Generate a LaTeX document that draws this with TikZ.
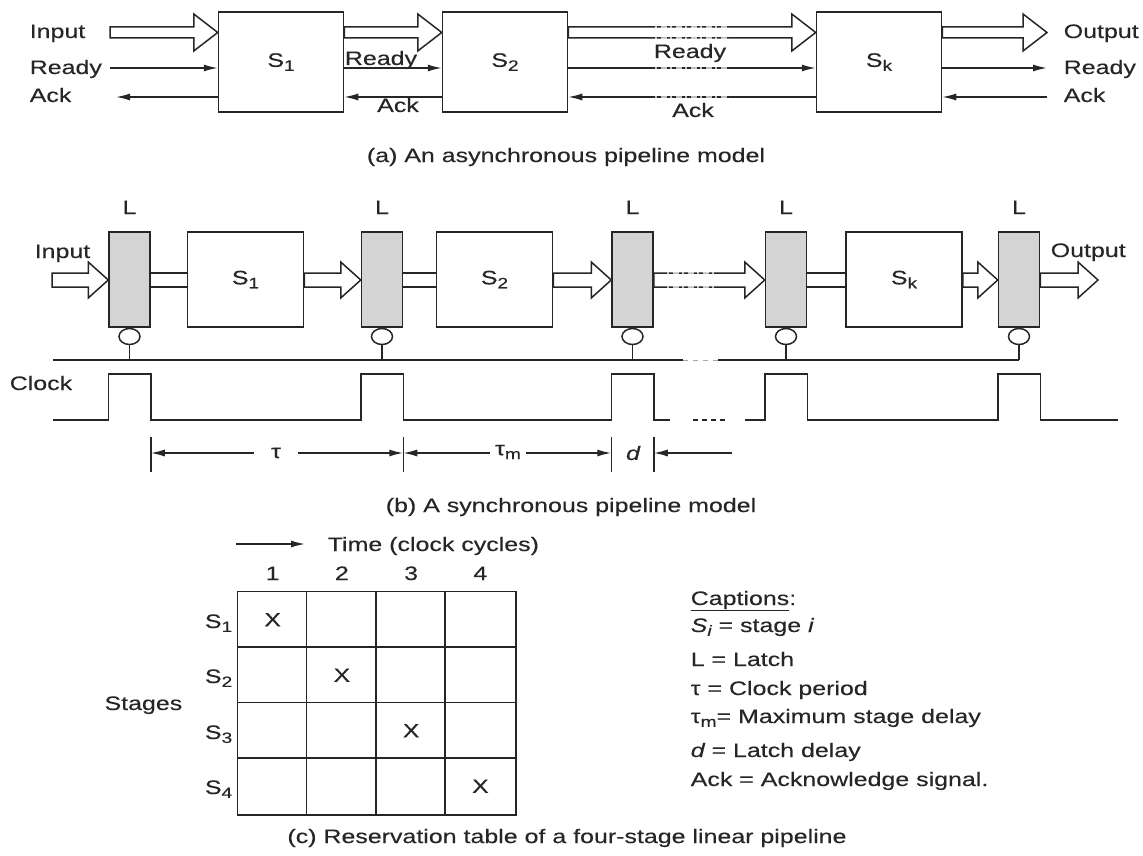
\documentclass[tikz,border=0pt]{standalone}
\usepackage{fontspec}
\setmainfont{Liberation Sans}[FakeStretch=1.28,FakeBold=0.3]
\usetikzlibrary{arrows.meta,calc,shapes.geometric}
\newcommand\lowidx[1]{\raisebox{-0.38ex}{\fontsize{15}{15}\selectfont #1}}
\colorlet{ink}{black!85}
\begin{document}
\begin{tikzpicture}[x=1pt,y=-1pt,line width=1.5pt,draw=ink,
  every node/.style={font=\fontsize{19.5}{23}\selectfont, text=ink, inner sep=0pt},
  stagebox/.style={draw, minimum width=125pt, minimum height=100pt},
  sbox/.style={draw, minimum width=116pt, minimum height=95pt},
  latch/.style={draw, fill=black!17, minimum width=41pt, minimum height=95pt},
  bubble/.style={draw, ellipse, minimum width=21pt, minimum height=16pt, anchor=north},
  cell/.style={minimum width=69.25pt, minimum height=55.5pt},
  lbl/.style={anchor=base west},
  arr/.style={-{Latex[length=14pt,width=7pt]}},
  fat/.style n args={3}{to path={let \p1=(\tikztostart), \p2=(\tikztotarget) in
     (\x1,\y1+#1) -- (\x2-#3,\y1+#1) -- (\x2-#3,\y1+#2) -- (\x2,\y1) -- (\x2-#3,\y1-#2) -- (\x2-#3,\y1-#1) -- (\x1,\y1-#1) -- cycle}},
  fatA/.style={fat={5.5pt}{18.5pt}{24pt}},
  fatB/.style={fat={7pt}{18pt}{20pt}},
  dbl/.style={to path={let \p1=(\tikztostart), \p2=(\tikztotarget) in
     (\x1,\y1+7pt) -- (\x2,\y1+7pt) (\x1,\y1-7pt) -- (\x2,\y1-7pt)}},
  brk/.style={white!100, opacity=0.7, line width=2.8pt, dash pattern=on 2pt off 4pt on 6pt off 3pt},
]
\useasboundingbox (0,0) rectangle (1143,856);

%%%%%%%%%%%%%%%% (a) asynchronous
\node[stagebox] (a1) at (281,62) {S\lowidx{1}};
\node[stagebox] (a2) at (505,62) {S\lowidx{2}};
\node[stagebox] (ak) at (879,62) {S\lowidx{k}};
\coordinate (ya) at (0,32.5);
\coordinate (yr) at (0,68);
\coordinate (yk) at (0,97);
\coordinate (ainl) at (110,32.5);
\coordinate (arl) at (110,68);
\coordinate (akl) at (116,97);
\coordinate (aoutr) at (1047,32.5);
\coordinate (arr) at (1047,68);
\coordinate (akr) at (1047,97);

\draw[fatA] (ainl) to (a1.west |- ya);
\draw[fatA] (a1.east |- ya) to (a2.west |- ya);
\draw[fatA] (a2.east |- ya) to (ak.west |- ya);
\draw[fatA] (ak.east |- ya) to (aoutr);

\draw[arr] (arl) -- (a1.west |- yr);
\draw[arr] (a1.east |- yr) -- (a2.west |- yr);
\draw[arr] (a2.east |- yr) -- (ak.west |- yr);
\draw[arr] (ak.east |- yr) -- (arr);

\draw[arr] (a1.west |- yk) -- (akl);
\draw[arr] (a2.west |- yk) -- (a1.east |- yk);
\draw[arr] (ak.west |- yk) -- (a2.east |- yk);
\draw[arr] (akr) -- (ak.east |- yk);

% broken segments (omitted stages)
\coordinate (bra) at (655,0);
\coordinate (brb) at (730,0);
\foreach \yy in {27,38,68,97} \draw[brk] (bra |- 0,\yy) -- (brb |- 0,\yy);

\node[lbl] (tin) at (29,38) {Input};
\node[lbl] (trd) at (29,74) {Ready};
\node[lbl] (tak) at (29,102) {Ack};
\node[lbl] (tout) at (1063,38) {Output};
\node[lbl] (trd2) at (1063,74) {Ready};
\node[lbl] (tak2) at (1063,102) {Ack};
\node[anchor=base] (r12) at (381,65) {Ready};
\node[anchor=base] (k12) at (398,112) {Ack};
\node[anchor=base] (r2k) at (690,58) {Ready};
\node[anchor=base] (k2k) at (693,117) {Ack};

\node (capa) at (566,157) {(a) An asynchronous pipeline model};

%%%%%%%%%%%%%%%% (b) synchronous
\node[latch] (l1) at (129.5,279.5) {};
\node[latch] (l2) at (382,279.5) {};
\node[latch] (l3) at (632.5,279.5) {};
\node[latch] (l4) at (786,279.5) {};
\node[latch] (l5) at (1019,279.5) {};
\node[sbox] (b1) at (245.5,279.5) {S\lowidx{1}};
\node[sbox] (b2) at (494.5,279.5) {S\lowidx{2}};
\node[sbox] (bk) at (904,279.5) {S\lowidx{k}};

\coordinate (yL) at (0,214);
\foreach \l in {l1,l2,l3,l4,l5} \node[anchor=base] (L\l) at (\l.north |- yL) {L};

\coordinate (yb) at (0,280);
\coordinate (binl) at (52,280);
\coordinate (boutr) at (1098,280);
\draw[fatB] (binl) to (l1.west |- yb);
\draw[dbl] (l1.east |- yb) to (b1.west |- yb);
\draw[fatB] (b1.east |- yb) to (l2.west |- yb);
\draw[dbl] (l2.east |- yb) to (b2.west |- yb);
\draw[fatB] (b2.east |- yb) to (l3.west |- yb);
\draw[fatB] (l3.east |- yb) to (l4.west |- yb);
\draw[dbl] (l4.east |- yb) to (bk.west |- yb);
\draw[fatB] (bk.east |- yb) to (l5.west |- yb);
\draw[fatB] (l5.east |- yb) to (boutr);
\coordinate (brc) at (667,0);
\coordinate (brd) at (717,0);
\foreach \yy in {273,287} \draw[brk] (brc |- 0,\yy) -- (brd |- 0,\yy);

\node[lbl] (bin) at (34,258) {Input};
\node[lbl] (bout) at (1050,257) {Output};

% clock bubbles and bus
\coordinate (yc) at (0,360);
\foreach \l in {l1,l2,l3,l4,l5} {
  \node[bubble] (o\l) at (\l.south) {};
  \draw (o\l.south) -- (o\l.south |- yc);
}
\coordinate (clkl) at (53,360);
\coordinate (g1) at (683,360);
\coordinate (g2) at (718,360);
\draw (clkl) -- (g1);
\draw[line width=0.8pt, black!35, dash pattern=on 5pt off 5pt] (g1) -- (g2);
\draw (g2) -- (ol5.south |- yc);
\node[lbl] (clk) at (9,390) {Clock};

% clock waveform
\coordinate (lo) at (0,420);
\coordinate (hi) at (0,374);
\draw (53,420) -- (l1.west |- lo) -- (l1.west |- hi) -- (l1.east |- hi) -- (l1.east |- lo)
  -- (l2.west |- lo) -- (l2.west |- hi) -- (l2.east |- hi) -- (l2.east |- lo)
  -- (l3.west |- lo) -- (l3.west |- hi) -- (l3.east |- hi) -- (l3.east |- lo) -- (670,420);
\draw[dash pattern=on 5pt off 4pt] (693,420) -- (728,420);
\draw (745,420) -- (l4.west |- lo) -- (l4.west |- hi) -- (l4.east |- hi) -- (l4.east |- lo)
  -- (l5.west |- lo) -- (l5.west |- hi) -- (l5.east |- hi) -- (l5.east |- lo) -- (1118,420);

% dimensions
\coordinate (dt) at (0,437);
\coordinate (db) at (0,472);
\coordinate (dm) at (0,453);
\draw (l1.east |- dt) -- (l1.east |- db);
\draw (l2.east |- dt) -- (l2.east |- db);
\draw (l3.west |- dt) -- (l3.west |- db);
\draw (l3.east |- dt) -- (l3.east |- db);
\node[inner xsep=16pt] (tau) at (276,453) {τ};
\node[inner xsep=4pt] (taum) at (508,452) {τ\lowidx{m}};
\node (dd) at (633,453) {\itshape d};
\coordinate (dr) at (732,453);
\draw[arr] (tau.west |- dm) -- (l1.east |- dm);
\draw[arr] (tau.east |- dm) -- (l2.east |- dm);
\draw[arr] (taum.west |- dm) -- (l2.east |- dm);
\draw[arr] (taum.east |- dm) -- (l3.west |- dm);
\draw[arr] (dr) -- (l3.east |- dm);

\node (capb) at (571,507) {(b) A synchronous pipeline model};

%%%%%%%%%%%%%%%% (c) reservation table
\node[lbl] (time) at (327,551) {Time (clock cycles)};
\coordinate (ta1) at (236,544);
\draw[arr] (ta1) -- ([xshift=-22pt]time.west |- ta1);

\foreach \r in {1,...,4} \foreach \c in {1,...,4}
  \node[cell] (c\r\c) at ({238+69.25*(\c-0.5)},{592+55.5*(\r-0.5)}) {};
\draw (c11.north west) rectangle (c44.south east);
\foreach \c in {2,3,4} \draw (c1\c.north west) -- (c4\c.south west);
\foreach \r in {2,3,4} \draw (c\r1.north west) -- (c\r4.north east);
\coordinate (yh) at (0,580);
\foreach \c in {1,...,4} \node[anchor=base] (h\c) at (c1\c.center |- yh) {\c};
\foreach \i in {1,...,4} \node (x\i) at (c\i\i) {X};
\node[anchor=base east] (s1) at (233,628) {S\lowidx{1}};
\node[anchor=base east] (s2) at (233,683) {S\lowidx{2}};
\node[anchor=base east] (s3) at (233,739) {S\lowidx{3}};
\node[anchor=base east] (s4) at (233,794) {S\lowidx{4}};
\node[anchor=base east] (stg) at (183,710) {Stages};

\node (capc) at (567,838) {(c) Reservation table of a four-stage linear pipeline};

% captions legend
\node[lbl] (k0) at (690,605) {\underline{Captions}:};
\node[lbl] (k1) at (690,632) {\itshape S\lowidx{i}\upshape{} = stage \itshape i};
\node[lbl] (k2) at (690,666) {L = Latch};
\node[lbl] (k3) at (690,695) {τ = Clock period};
\node[lbl] (k4) at (690,723) {τ\lowidx{m}= Maximum stage delay};
\node[lbl] (k5) at (690,757) {\itshape d\upshape{} = Latch delay};
\node[lbl] (k6) at (690,786) {Ack = Acknowledge signal.};
\end{tikzpicture}
\end{document}
